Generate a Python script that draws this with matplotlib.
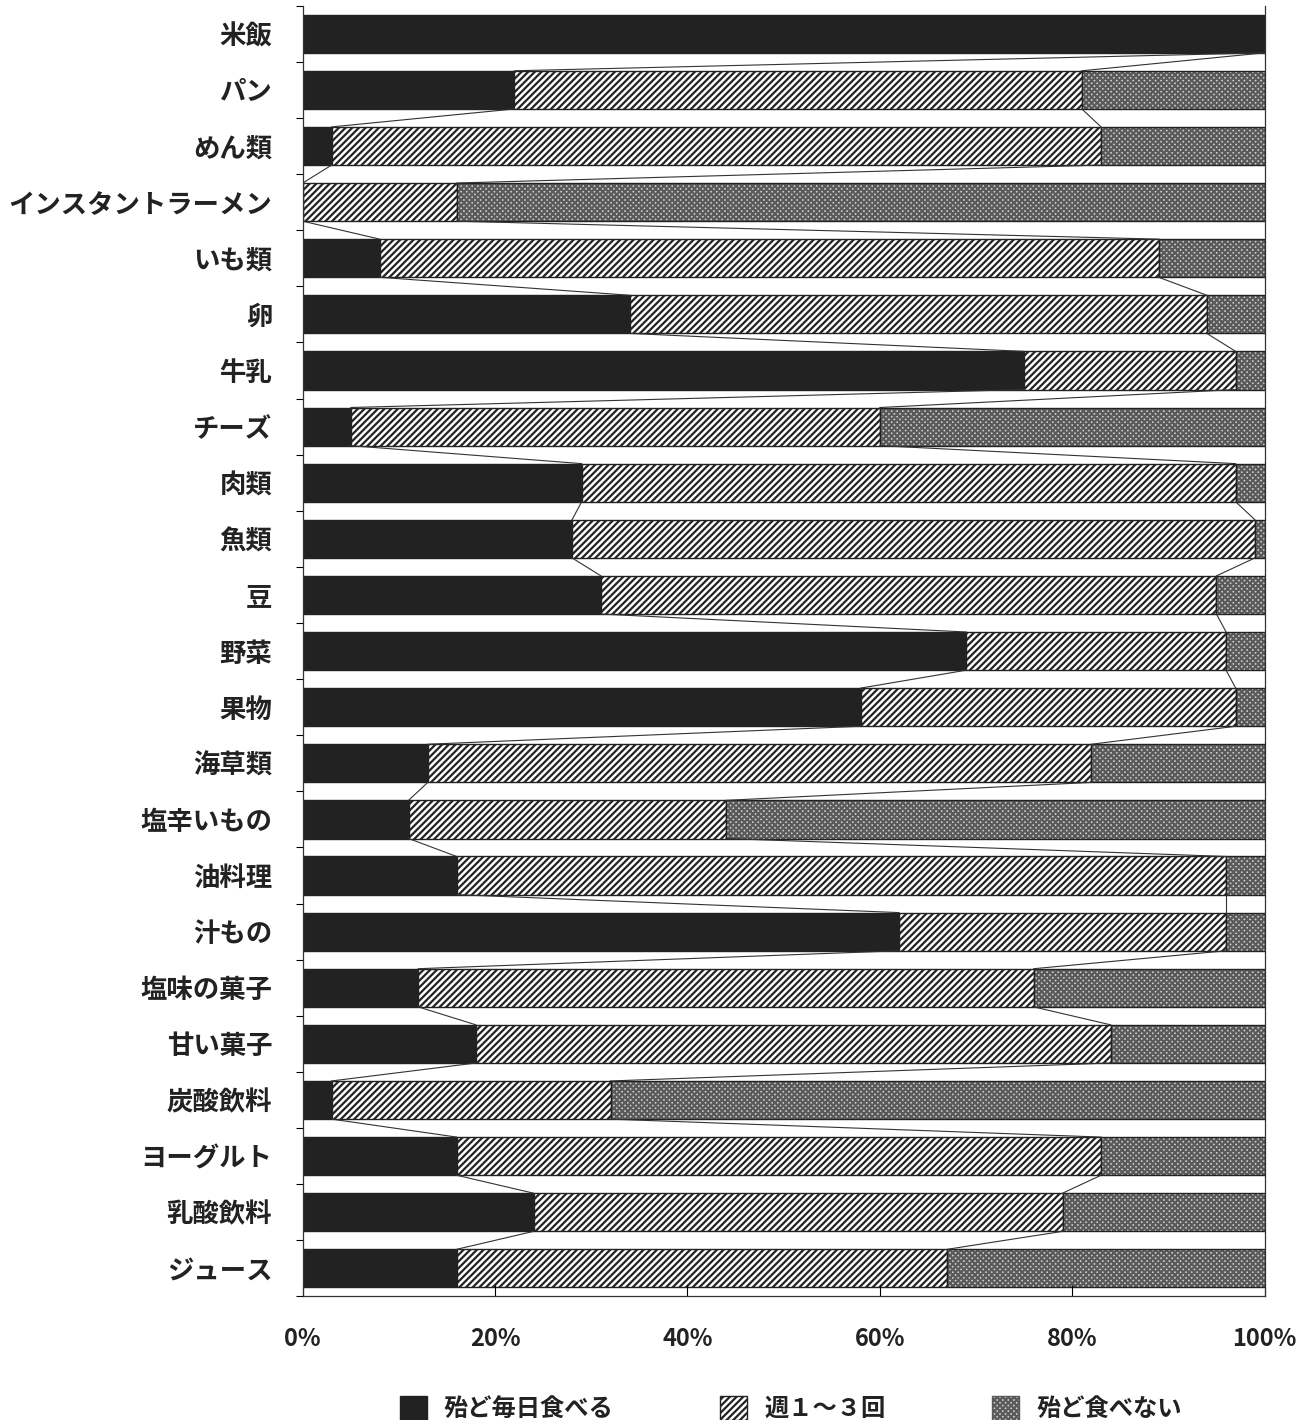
import matplotlib
matplotlib.use("Agg")
import matplotlib.pyplot as plt
import numpy as np
from matplotlib.patches import Patch

plt.rcParams['font.family'] = ['Noto Sans CJK JP', 'DejaVu Sans']
plt.rcParams['hatch.linewidth'] = 1.6

categories = ["米飯", "パン", "めん類", "インスタントラーメン", "いも類", "卵", "牛乳", "チーズ",
              "肉類", "魚類", "豆", "野菜", "果物", "海草類", "塩辛いもの", "油料理", "汁もの",
              "塩味の菓子", "甘い菓子", "炭酸飲料", "ヨーグルト", "乳酸飲料", "ジュース"]
daily = [100, 22, 3, 0, 8, 34, 75, 5, 29, 28, 31, 69, 58, 13, 11, 16, 62, 12, 18, 3, 16, 24, 16]
weekly = [0, 59, 80, 16, 81, 60, 22, 55, 68, 71, 64, 27, 39, 69, 33, 80, 34, 64, 66, 29, 67, 55, 51]
rarely = [0, 19, 17, 84, 11, 6, 3, 40, 3, 1, 5, 4, 3, 18, 56, 4, 4, 24, 16, 68, 17, 21, 33]
series_names = ["殆ど毎日食べる", "週１～３回", "殆ど食べない"]
xticks = [0, 20, 40, 60, 80, 100]
xticklabels = ["0%", "20%", "40%", "60%", "80%", "100%"]

fig = plt.figure(figsize=(13.05, 14.2), dpi=100)
ax = fig.add_axes([0.232, 0.087, 0.737, 0.909])

y = np.arange(len(categories))
h = 0.68
d = np.array(daily, float)
w = np.array(weekly, float)
r = np.array(rarely, float)

dark = "#222222"
checker_face = "#cfcfcf"
checker_hatch = "#5a5a5a"
ax.barh(y, d, height=h, color=dark, edgecolor=dark, linewidth=1.0)
ax.barh(y, w, left=d, height=h, color="white", edgecolor=dark, hatch="/////", linewidth=1.0)
ax.barh(y, r, left=d + w, height=h, color=checker_face, edgecolor=checker_hatch, hatch="xxxxxx", linewidth=0)
ax.barh(y, r, left=d + w, height=h, fill=False, edgecolor=dark, linewidth=1.0)

# series lines connecting boundaries between consecutive bars
b1 = d
b2 = d + w
for i in range(len(categories) - 1):
    for b in (b1, b2):
        ax.plot([b[i], b[i + 1]], [i + h / 2, i + 1 - h / 2], color="#333333", lw=0.8, zorder=3)

ax.set_xlim(0, 100)
ax.set_ylim(len(categories) - 0.5, -0.5)
ax.set_yticks(y)
ax.set_yticklabels(categories, fontsize=19, fontweight="bold", color="#222222")
ax.set_yticks(np.arange(len(categories) + 1) - 0.5, minor=True)
ax.tick_params(axis="y", which="major", length=0, pad=22)
ax.tick_params(axis="y", which="minor", length=5, direction="out", width=0.8)
ax.set_xticks(xticks)
ax.set_xticklabels(xticklabels, fontsize=17, fontweight="bold", color="#222222")
ax.tick_params(axis="x", direction="in", length=8, pad=22, width=0.8)
ax.spines["top"].set_visible(False)
for s in ("left", "bottom", "right"):
    ax.spines[s].set_linewidth(0.9)
    ax.spines[s].set_color("#333333")

handles = [Patch(facecolor=dark, edgecolor=dark),
           Patch(facecolor="white", edgecolor=dark, hatch="/////"),
           Patch(facecolor=checker_face, edgecolor=checker_hatch, hatch="xxxxxx")]
leg = fig.legend(handles, series_names, loc="center", bbox_to_anchor=(0.606, 0.008), ncol=3,
                 frameon=False, prop={"size": 17.5, "weight": "bold"}, columnspacing=4.4,
                 handlelength=1.1, handleheight=1.1, handletextpad=0.7)
for t in leg.get_texts():
    t.set_color("#222222")

fig.savefig("out.png", dpi=100)
